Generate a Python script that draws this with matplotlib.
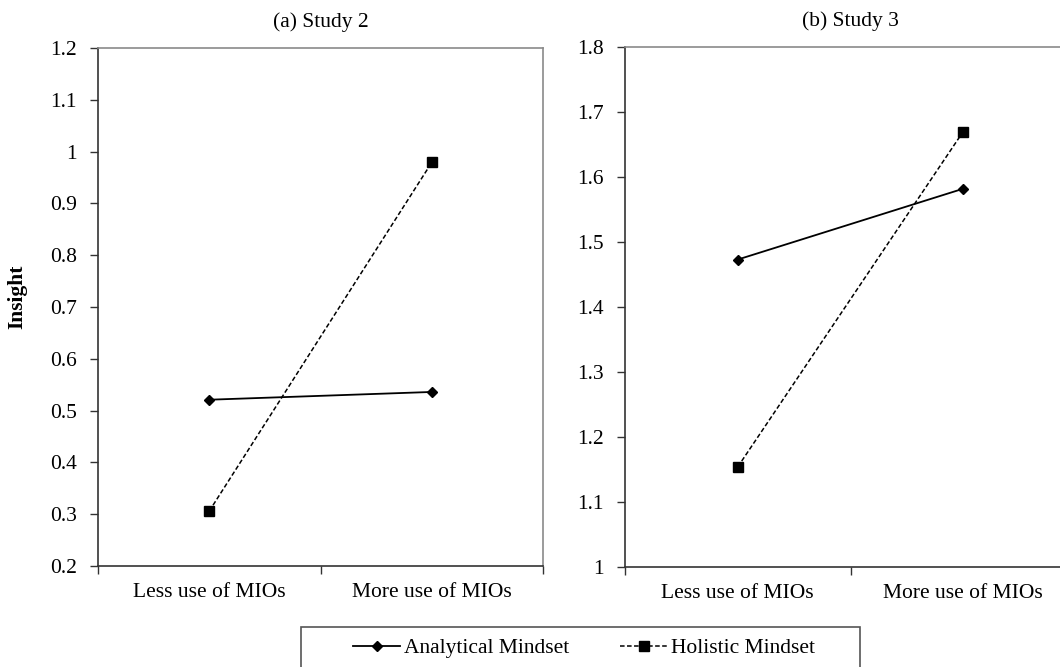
import numpy as np
import matplotlib
matplotlib.use("Agg")
import matplotlib.pyplot as plt
from matplotlib.ticker import FuncFormatter
from matplotlib.patches import Rectangle

# --- Data ---
categories = ["Less use of MIOs", "More use of MIOs"]
series_names = ["Analytical Mindset", "Holistic Mindset"]

study2_analytical = [0.521, 0.536]
study2_holistic = [0.306, 0.979]
study3_analytical = [1.473, 1.582]
study3_holistic = [1.154, 1.670]

titles = ["(a) Study 2", "(b) Study 3"]
ylims = [(0.2, 1.2), (1.0, 1.8)]
yticks = [np.arange(0.2, 1.21, 0.1), np.arange(1.0, 1.81, 0.1)]

plt.rcParams["font.family"] = ["Liberation Serif", "DejaVu Serif"]
plt.rcParams["font.size"] = 15.5

W, H = 1060, 667
fig = plt.figure(figsize=(W / 100, H / 100), dpi=100)

def px_axes(x0, x1, ytop, ybot):
    return fig.add_axes([x0 / W, 1 - ybot / H, (x1 - x0) / W, (ybot - ytop) / H])

ax1 = px_axes(98, 543, 48, 566)
ax2 = px_axes(625, 1076, 47, 567)

panels = [(ax1, study2_analytical, study2_holistic),
          (ax2, study3_analytical, study3_holistic)]

x = np.arange(len(categories))
for i, (ax, ana, hol) in enumerate(panels):
    ax.plot(x, ana, color="black", lw=1.3, marker="D", markersize=5.5,
            label=series_names[0])
    ax.plot(x, hol, color="black", lw=1.1, ls=(0, (3, 1.6)), marker="s",
            markersize=6.5, label=series_names[1])

    ax.set_xlim(-0.5, 1.5)
    ax.set_ylim(*ylims[i])
    ax.set_yticks(yticks[i])
    ax.yaxis.set_major_formatter(FuncFormatter(lambda v, p: f"{round(v, 2):g}"))

    # category boundaries as major ticks, labels on minor ticks
    ax.set_xticks([-0.5, 0.5, 1.5])
    ax.set_xticklabels([])
    ax.set_xticks(x, minor=True)
    ax.set_xticklabels(categories, minor=True)
    ax.tick_params(axis="x", which="major", direction="out", length=6, width=1, color="#333333")
    ax.tick_params(axis="x", which="minor", length=0, pad=12)
    ax.tick_params(axis="y", direction="out", length=6, width=1, pad=9, color="#333333")

    for s in ["left", "bottom"]:
        ax.spines[s].set_color("#333333")
        ax.spines[s].set_linewidth(1.2)
    for s in ["top", "right"]:
        ax.spines[s].set_color("#8a8a8a")
        ax.spines[s].set_linewidth(1.2)

    ax.set_title(titles[i], fontsize=15.5, pad=15)

ax1.set_ylabel("Insight", fontweight="bold", fontsize=15.5)
ax1.yaxis.set_label_coords(-0.158, 0.52)

# legend with its own frame at the bottom
handles, labels = ax1.get_legend_handles_labels()
fig.legend(handles, labels, loc="center", bbox_to_anchor=(584 / W, 1 - 648 / H),
           ncol=2, frameon=False, handlelength=2.2, handletextpad=0.15,
           columnspacing=2.4, fontsize=15.5)
fig.patches.append(Rectangle((301 / W, 1 - 700 / H), 559 / W, 73 / H,
                             transform=fig.transFigure, fill=False,
                             edgecolor="#555555", lw=1.2))

fig.savefig("out.png", dpi=100)
